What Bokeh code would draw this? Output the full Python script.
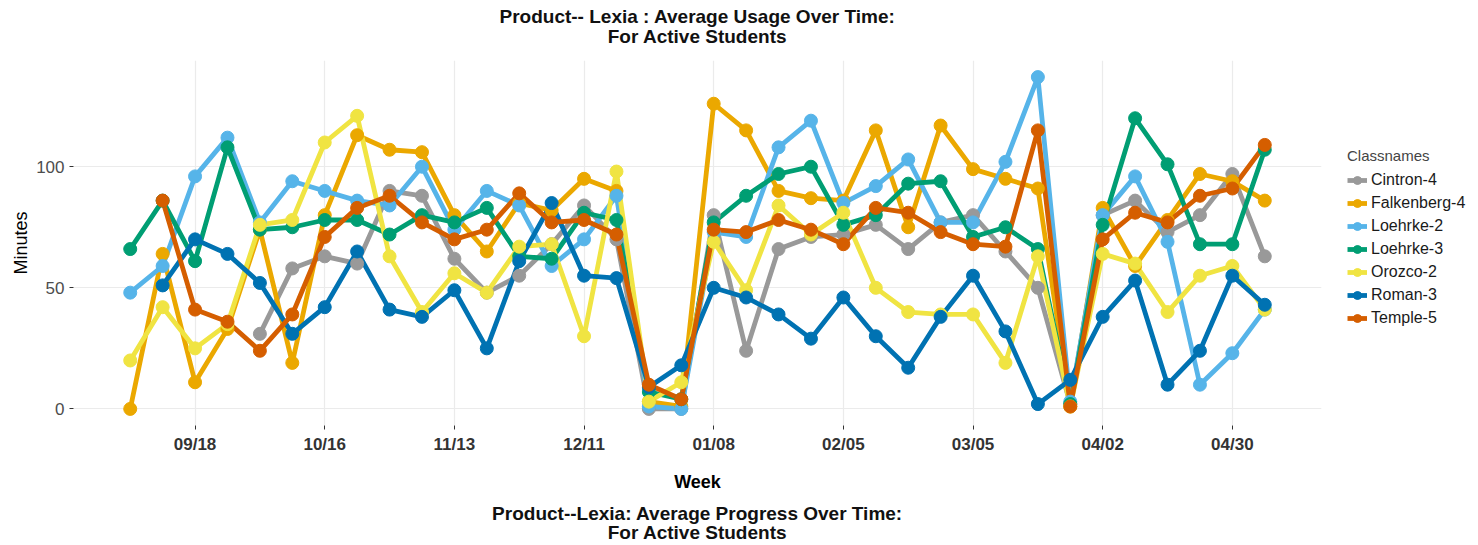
import numpy as np
import pandas as pd
from bokeh.plotting import figure
from bokeh.models import Range1d, FixedTicker, Title, Legend, LegendItem
from bokeh.embed import file_html
from bokeh.resources import INLINE

NA = np.nan

weeks = ["2017-09-04", "2017-09-11", "2017-09-18", "2017-09-25", "2017-10-02", "2017-10-09",
         "2017-10-16", "2017-10-23", "2017-10-30", "2017-11-06", "2017-11-13", "2017-11-20",
         "2017-11-27", "2017-12-04", "2017-12-11", "2017-12-18", "2017-12-25", "2018-01-01",
         "2018-01-08", "2018-01-15", "2018-01-22", "2018-01-29", "2018-02-05", "2018-02-12",
         "2018-02-19", "2018-02-26", "2018-03-05", "2018-03-12", "2018-03-19", "2018-03-26",
         "2018-04-02", "2018-04-09", "2018-04-16", "2018-04-23", "2018-04-30", "2018-05-07"]

tick_weeks = ["2017-09-18", "2017-10-16", "2017-11-13", "2017-12-11", "2018-01-08",
              "2018-02-05", "2018-03-05", "2018-04-02", "2018-04-30"]
tick_labels = ["09/18", "10/16", "11/13", "12/11", "01/08", "02/05", "03/05", "04/02", "04/30"]

classnames = ["Cintron-4", "Falkenberg-4", "Loehrke-2", "Loehrke-3", "Orozco-2", "Roman-3", "Temple-5"]

cintron_4 = [NA, NA, NA, NA, 31, 58, 63, 60, 90, 88, 62, 48, 55, 68, 84, 70, 0, 0,
             80, 24, 66, 71, 72, 76, 66, 77, 80, 65, 50, 2, 80, 86, 73, 80, 97, 63]
falkenberg_4 = [0, 64, 11, 33, 74, 19, 80, 113, 107, 106, 80, 65, 85, 82, 95, 90, 3, 1,
                126, 115, 90, 87, 86, 115, 75, 117, 99, 95, 91, 1, 83, 59, 78, 97, 94, 86]
loehrke_2 = [48, 59, 96, 112, 77, 94, 90, 86, 84, 100, 74, 90, 84, 59, 70, 88, 1, 0,
             73, 71, 108, 119, 85, 92, 103, 77, 77, 102, 137, 3, 80, 96, 69, 10, 23, 41]
loehrke_3 = [66, 86, 61, 108, 74, 75, 78, 78, 72, 80, 77, 83, 63, 62, 81, 78, 7, 4,
             77, 88, 97, 100, 76, 80, 93, 94, 71, 75, 66, 2, 76, 120, 101, 68, 68, 107]
orozco_2 = [20, 42, 25, 35, 76, 78, 110, 121, 63, 40, 56, 48, 67, 68, 30, 98, 3, 11,
            69, 49, 84, 72, 81, 50, 40, 39, 39, 19, 63, 1, 64, 60, 40, 55, 59, 41]
roman_3 = [NA, 51, 70, 64, 52, 31, 42, 65, 41, 38, 49, 25, 61, 85, 55, 54, 9, 18,
           50, 46, 39, 29, 46, 30, 17, 38, 55, 32, 2, 12, 38, 53, 10, 24, 55, 43]
temple_5 = [NA, 86, 41, 36, 24, 39, 71, 83, 88, 77, 70, 74, 89, 77, 78, 72, 10, 4,
            74, 73, 78, 74, 68, 83, 81, 73, 68, 67, 115, 1, 70, 81, 77, 88, 91, 109]

series = [cintron_4, falkenberg_4, loehrke_2, loehrke_3, orozco_2, roman_3, temple_5]
colors = ["#999999", "#EBA800", "#56B4E9", "#009E73", "#F0E442", "#0072B2", "#D55E00"]

title_lines = ["Product-- Lexia : Average Usage Over Time:", "For Active Students"]
next_title_lines = ["Product--Lexia: Average Progress Over Time:", "For Active Students"]

x = pd.to_datetime(weeks)
pad = pd.Timedelta(days=12.25)
FONT = "Liberation Sans"

p = figure(x_axis_type="datetime", output_backend="svg", toolbar_location=None,
           frame_width=1248, frame_height=365,
           min_border_left=73, min_border_right=147, min_border_top=0, min_border_bottom=119,
           x_range=Range1d(x[0] - pad, x[-1] + pad), y_range=Range1d(-6.85, 143.85),
           background_fill_color="white", border_fill_color="white", outline_line_color=None)
p.title = None

for g in (p.xgrid, p.ygrid):
    g.grid_line_color = "#EBEBEB"
    g.grid_line_width = 1.2

ticks_ms = [pd.Timestamp(t).value / 1e6 for t in tick_weeks]
p.xaxis.ticker = FixedTicker(ticks=ticks_ms)
p.xaxis.major_label_overrides = {t: l for t, l in zip(ticks_ms, tick_labels)}
p.yaxis.ticker = FixedTicker(ticks=[0, 50, 100])
for ax in (p.xaxis, p.yaxis):
    ax.axis_line_color = None
    ax.major_tick_line_color = "#333333"
    ax.major_tick_in = 0
    ax.major_tick_out = 4
    ax.minor_tick_line_color = None
    ax.major_label_text_font = FONT
    ax.axis_label_text_font = FONT
    ax.major_label_text_font_size = "17px"
p.xaxis.major_label_text_font_style = "bold"
p.xaxis.major_label_text_color = "#333333"
p.yaxis.major_label_text_color = "#4D4D4D"
p.xaxis.axis_label = "Week"
p.xaxis.axis_label_text_font_style = "bold"
p.xaxis.axis_label_text_font_size = "18px"
p.xaxis.axis_label_text_color = "black"
p.xaxis.axis_label_standoff = 15
p.yaxis.axis_label = "Minutes"
p.yaxis.axis_label_text_font_style = "normal"
p.yaxis.axis_label_text_font_size = "18px"
p.yaxis.axis_label_text_color = "black"
p.yaxis.axis_label_standoff = 2

line_rs, pt_rs = [], []
for s, c in zip(series, colors):
    line_rs.append(p.line(x, s, line_color=c, line_width=4.8))
for s, c in zip(series, colors):
    pt_rs.append(p.scatter(x, s, size=13, fill_color=c, line_color=c))

items = [LegendItem(label=n, renderers=[l, r]) for n, l, r in zip(classnames, line_rs, pt_rs)]
legend = Legend(items=items, title="Classnames", location=(26, 97),
                border_line_color=None, background_fill_alpha=0, margin=0, padding=4,
                label_text_font=FONT, label_text_font_size="16px", label_text_color="#1a1a1a",
                title_text_font=FONT, title_text_font_size="15px", title_text_font_style="normal",
                title_standoff=6, glyph_width=20, glyph_height=20, label_height=20,
                spacing=3, label_standoff=4)
p.add_layout(legend, "right")


def make_title(text, standoff, size="19px"):
    return Title(text=text, align="center", text_font=FONT, text_font_size=size,
                 text_font_style="bold", text_color="#111111", standoff=standoff)


# above: first added sits nearest the plot (spacer, line 2, line 1)
p.add_layout(make_title(" ", 17, "1px"), "above")
p.add_layout(make_title(title_lines[1], -13), "above")
p.add_layout(make_title(title_lines[0], 7), "above")
# below: after the x axis
p.add_layout(make_title(next_title_lines[0], 13), "below")
p.add_layout(make_title(next_title_lines[1], -22), "below")

open("out.html", "w").write(file_html(p, INLINE))
